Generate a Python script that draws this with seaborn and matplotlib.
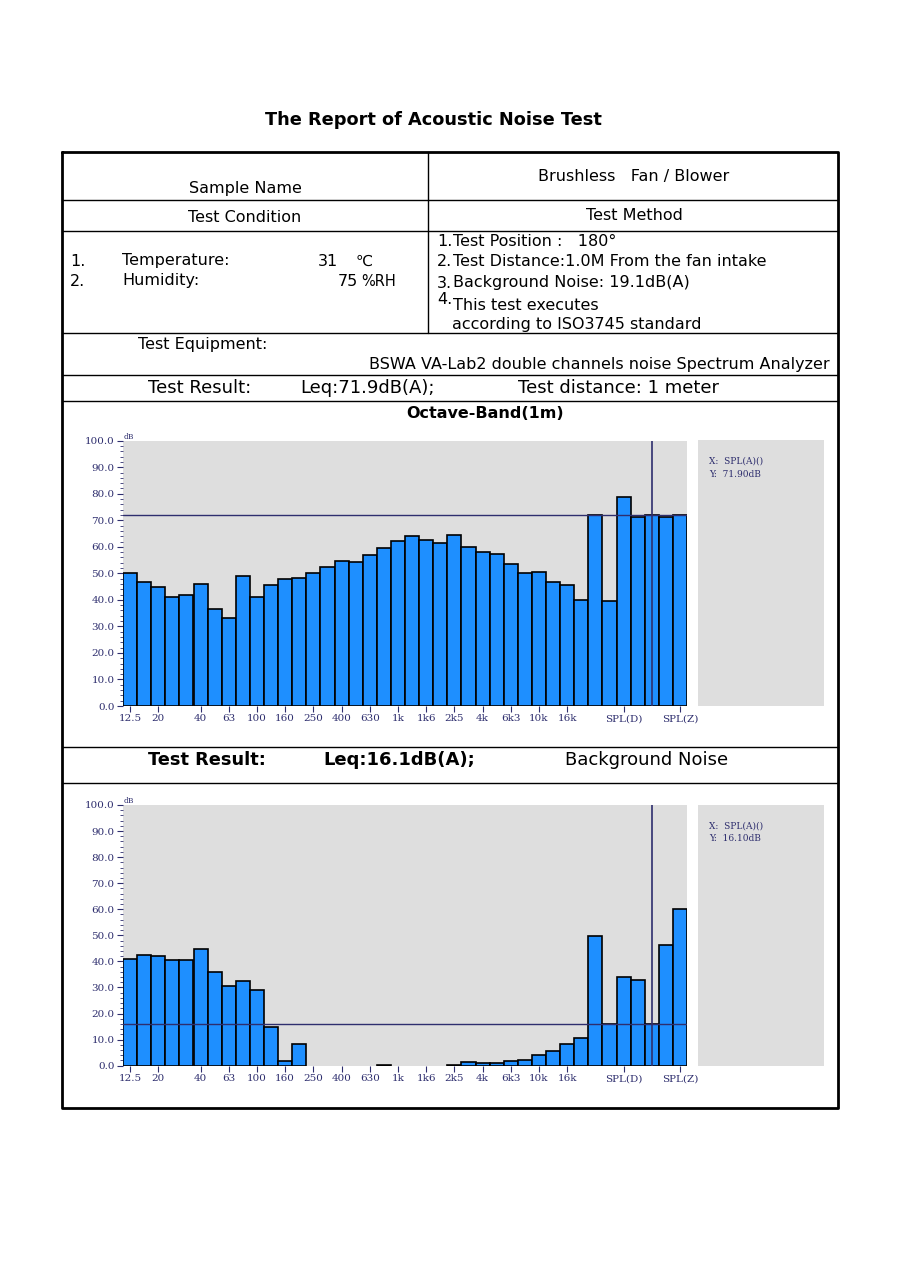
import numpy as np
import pandas as pd
import matplotlib
matplotlib.use("Agg")
import matplotlib.pyplot as plt
from matplotlib.ticker import MultipleLocator
import seaborn as sns

# ============================================================
# DATA
# ============================================================

BANDS = ["12.5", "16", "20", "25", "31.5", "40", "50", "63", "80", "100",
         "125", "160", "200", "250", "315", "400", "500", "630", "800", "1k",
         "1k25", "1k6", "2k", "2k5", "3k15", "4k", "5k", "6k3", "8k", "10k",
         "12k5", "16k", "20k", "T1", "T2", "SPL(D)", "T4", "SPL(A)", "T6", "SPL(Z)"]

TICK_LABELS = ["12.5", "20", "40", "63", "100", "160", "250", "400", "630", "1k",
               "1k6", "2k5", "4k", "6k3", "10k", "16k", "SPL(D)", "SPL(Z)"]

SPL_1M = [50.0, 46.7, 44.8, 41.2, 42.0, 46.1, 36.7, 33.2, 48.9, 41.2,
          45.5, 47.9, 48.2, 50.0, 52.3, 54.6, 54.3, 56.8, 59.4, 62.1,
          64.1, 62.6, 61.6, 64.4, 59.9, 58.0, 57.3, 53.5, 50.0, 50.5,
          46.6, 45.6, 40.1, 71.9, 39.4, 78.9, 71.2, 71.9, 71.4, 72.1]

SPL_BG = [40.9, 42.3, 41.9, 40.7, 40.5, 44.8, 35.9, 30.6, 32.5, 29.0,
          15.0, 1.8, 8.4, 0.0, 0.0, 0.0, 0.0, 0.0, 0.3, 0.0,
          0.0, 0.0, 0.0, 0.3, 1.5, 1.2, 1.2, 1.8, 2.3, 4.1,
          5.8, 8.2, 10.5, 49.9, 15.9, 34.0, 32.9, 16.1, 46.4, 60.1]

LEQ = [71.9, 16.1]
CURSOR_BAND = "SPL(A)"
CURSOR_TEXT = [("X:  SPL(A)()", "Y:  71.90dB"), ("X:  SPL(A)()", "Y:  16.10dB")]

# ============================================================
# FIGURE / PAGE
# ============================================================

sns.set_theme(style="white")
plt.rcParams['font.family'] = ['DejaVu Sans']
plt.rcParams['text.color'] = 'black'

W, H = 900, 1273
fig = plt.figure(figsize=(9, 12.73), dpi=100)
fig.patch.set_facecolor("white")

page = fig.add_axes([0, 0, 1, 1], zorder=0)
page.set_xlim(0, W)
page.set_ylim(H, 0)
page.axis("off")

NAVY = "#2e2e6e"
BAR = "#1e8fff"
GREY = "#dedede"


def t(x, y, s, size=11.5, ha="left", weight="normal", **kw):
    page.text(x, y, s, fontsize=size, ha=ha, va="center", weight=weight,
              color="black", **kw)


def hline(y, x0=62, x1=838, lw=1.0):
    page.plot([x0, x1], [y, y], color="black", lw=lw)


# title
t(433, 120, "The Report of Acoustic Noise Test", size=12.8, ha="center", weight="bold")

# outer box
page.plot([62, 838, 838, 62, 62], [152, 152, 1108, 1108, 152], color="black", lw=2)
for yy in [200, 231, 333, 375, 401, 747, 783]:
    hline(yy)
page.plot([428, 428], [152, 333], color="black", lw=1.0)

t(245, 188, "Sample Name", ha="center")
t(634, 177, "Brushless   Fan / Blower", ha="center")
t(245, 217, "Test Condition", ha="center")
t(634, 215, "Test Method", ha="center")

t(70, 261, "1.")
t(122, 261, "Temperature:")
t(318, 261, "31")
t(356, 261, "\u2103", size=11)
t(70, 281, "2.")
t(122, 281, "Humidity:")
t(338, 281, "75")
t(361, 281, "%RH", size=10.5)

t(437, 242, "1.")
t(453, 241, "Test Position :   180\u00b0")
t(437, 262, "2.")
t(453, 261, "Test Distance:1.0M From the fan intake")
t(437, 283, "3.")
t(453, 282, "Background Noise: 19.1dB(A)")
t(437, 299, "4.")
t(453, 305, "This test executes")
t(452, 324, "according to ISO3745 standard")

t(138, 344, "Test Equipment:")
t(830, 365, "BSWA VA-Lab2 double channels noise Spectrum Analyzer", ha="right")

t(148, 388, "Test Result:", size=13)
t(300, 388, "Leq:71.9dB(A);", size=13)
t(518, 388, "Test distance: 1 meter", size=13)

t(485, 414, "Octave-Band(1m)", size=11.5, ha="center", weight="bold")

t(148, 760, "Test Result:", size=12.8, weight="bold")
t(323, 760, "Leq:16.1dB(A);", size=13, weight="bold")
t(565, 760, "Background Noise", size=13)

# ============================================================
# SPECTRUM CHARTS
# ============================================================


def fr(px_left, px_top, px_right, px_bottom):
    return [px_left / W, 1 - px_bottom / H, (px_right - px_left) / W, (px_bottom - px_top) / H]


def spectrum(values, leq, box, panel_box, cursor_lines):
    ax = fig.add_axes(fr(*box), zorder=2)
    df = pd.DataFrame({"band": BANDS, "spl": values})
    sns.barplot(data=df, x="band", y="spl", order=BANDS, color=BAR,
                saturation=1, width=1.0, edgecolor="black", linewidth=1.2, ax=ax)
    for p in ax.patches:
        if p.get_height() <= 0:
            p.set_linewidth(0)
    ax.set_facecolor(GREY)
    ax.set_xlim(-0.5, len(BANDS) - 0.5)
    ax.set_ylim(0, 100)
    for s in ax.spines.values():
        s.set_visible(False)

    ax.axhline(leq, color=NAVY, lw=1.0, zorder=5)
    ax.axvline(BANDS.index(CURSOR_BAND), color=NAVY, lw=1.2, zorder=5)

    ax.yaxis.set_minor_locator(MultipleLocator(2))
    ax.set_yticks(np.arange(0, 101, 10))
    ax.set_yticklabels([f"{v:.1f}" for v in np.arange(0, 101, 10)])
    ax.set_xticks([BANDS.index(b) for b in TICK_LABELS])
    ax.set_xticklabels(TICK_LABELS)
    ax.tick_params(axis="both", which="major", length=4, width=0.8, color=NAVY,
                   labelcolor=NAVY, labelsize=7.5, left=True, bottom=True, pad=2)
    ax.tick_params(axis="y", which="minor", length=2, width=0.6, color=NAVY, left=True)
    for lab in ax.get_xticklabels() + ax.get_yticklabels():
        lab.set_family("DejaVu Serif")
    ax.set_xlabel("")
    ax.set_ylabel("")
    ax.grid(False)

    page.text(box[0] + 1, box[1] - 4, "dB", fontsize=5.5, color=NAVY,
              family="DejaVu Serif", va="center")

    pan = fig.add_axes(fr(*panel_box), zorder=2)
    pan.set_facecolor(GREY)
    pan.set_xticks([])
    pan.set_yticks([])
    for s in pan.spines.values():
        s.set_visible(False)
    pan.text(0.09, 0.92, cursor_lines[0], transform=pan.transAxes, fontsize=6.5,
             color=NAVY, family="DejaVu Serif", va="center")
    pan.text(0.09, 0.87, cursor_lines[1], transform=pan.transAxes, fontsize=6.5,
             color=NAVY, family="DejaVu Serif", va="center")
    return ax


spectrum(SPL_1M, LEQ[0], (123, 440.7, 687, 706), (698, 440, 824, 706), CURSOR_TEXT[0])
spectrum(SPL_BG, LEQ[1], (123, 805, 687, 1065.7), (698, 805, 824, 1066), CURSOR_TEXT[1])

fig.savefig("out.png", dpi=100, facecolor="white")
